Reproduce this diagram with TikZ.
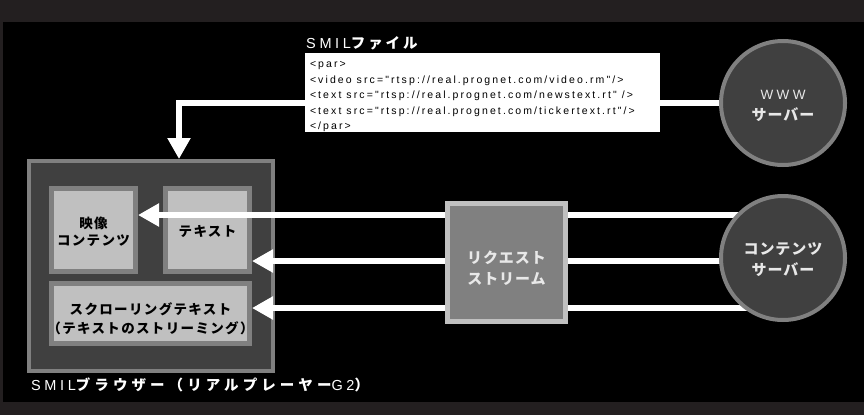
\documentclass[tikz,border=0pt]{standalone}
\usepackage{fontspec}
\setmainfont{Liberation Sans}
\newfontfamily\jpb{Noto Sans CJK JP}[LetterSpace=10]
\newfontfamily\jps{Noto Sans CJK JP}[LetterSpace=6]
\newfontfamily\jpc{Noto Sans CJK JP}[LetterSpace=20]
\newfontfamily\jpd{Noto Sans CJK JP}[LetterSpace=28]
\newfontfamily\lsp{Liberation Sans}[LetterSpace=25]
\newfontfamily\codef{Liberation Sans}[LetterSpace=20]
\usetikzlibrary{arrows.meta,calc}
\definecolor{outerbg}{HTML}{231F20}
\definecolor{midgray}{HTML}{808080}
\definecolor{darkfill}{HTML}{404040}
\definecolor{lightfill}{HTML}{C0C0C0}
\definecolor{reqtext}{HTML}{E8E8E8}
\tikzset{
  browserbox/.style={draw=midgray, fill=darkfill, line width=4pt, minimum width=244pt, minimum height=210pt, inner sep=0pt},
  innerbox/.style={draw=midgray, fill=lightfill, line width=5pt, inner sep=0pt},
  innerlbl/.style={inner sep=0pt, align=center, font=\jpb\bfseries\fontsize{13.5}{17}\selectfont, text=black},
  reqbox/.style={draw=lightfill, fill=midgray, line width=5pt, minimum width=118pt, minimum height=118pt, inner sep=0pt},
  server/.style={circle, draw=midgray, fill=darkfill, line width=4pt, minimum size=124pt, inner sep=0pt},
  darklbl/.style={inner sep=0pt, align=center, font=\jps\bfseries\fontsize{15}{21}\selectfont, text=reqtext},
  wire/.style={draw=white, line width=6pt},
  arr/.style={wire, -{Triangle[length=21pt,width=22pt]}},
  codebox/.style={fill=white, minimum width=355pt, minimum height=79pt, inner sep=0pt},
  caption/.style={anchor=west, text=white, inner sep=0pt, font=\fontsize{14}{16}\selectfont}
}
\begin{document}
\begin{tikzpicture}[x=1pt,y=-1pt]
\useasboundingbox (0,0) rectangle (864,415);
\fill[outerbg] (0,0) rectangle (864,415);
\fill[black] (3,22) rectangle (864,402);

% browser
\node[browserbox] (browser) at (151,266) {};
\node[innerbox, minimum width=84pt, minimum height=83pt] (video) at (93.5,230) {};
\node[innerbox, minimum width=84pt, minimum height=83pt] (textb) at (207.5,230) {};
\node[innerbox, minimum width=198pt, minimum height=60pt] (scroll) at (150.5,313.5) {};
\node[innerlbl] (videolbl) at ($(video.center)+(0,1.5)$) {映像\\コンテンツ};
\node[innerlbl] (textlbl) at ($(textb.center)+(0,1.5)$) {テキスト};
\node[innerlbl, font=\jpb\bfseries\fontsize{13.5}{19}\selectfont] (scrolllbl) at ($(scroll.center)+(0,5.5)$) {スクローリングテキスト\\（テキストのストリーミング）};

% positions
\coordinate (wwwc) at (783,103);
\coordinate (csc) at (783,258);
\coordinate (r1) at (0,215);
\coordinate (r2) at (0,261);
\coordinate (r3) at (0,308);
\coordinate (dropx) at (179,0);

% wires
\draw[arr] (wwwc) -| (dropx |- browser.north);
\draw[arr] (csc |- r1) -- (video.east |- r1);
\draw[arr] (csc |- r2) -- (textb.east |- r2);
\draw[arr] (csc |- r3) -- (scroll.east |- r3);

% request stream
\node[reqbox] (req) at (506.5,262.5) {};
\node[darklbl] (reqlbl) at ($(req.center)+(0,6)$) {リクエスト\\ストリーム};

% servers
\node[server] (www) at (wwwc) {};
\node[server] (cs) at (csc) {};
\node[darklbl] (wwwlbl) at ($(www.center)+(0,2.5)$) {{\lsp\mdseries\fontsize{13.5}{20}\selectfont WWW}\\サーバー};
\node[darklbl] (cslbl) at ($(cs.center)+(0,2)$) {コンテンツ\\サーバー};

% SMIL file
\node[codebox] (smil) at (482.5,92.5) {};
\node[anchor=north west, inner sep=0pt, align=left, font=\codef\fontsize{10.5}{15.5}\selectfont, text=black] (code) at ($(smil.north west)+(5,8.5)$) {%
<par>\\
<video src="rtsp://real.prognet.com/video.rm"/>\\
<text src="rtsp://real.prognet.com/newstext.rt" />\\
<text src="rtsp://real.prognet.com/tickertext.rt"/>\\
</par>};

% captions
\node[caption] (smiltitle) at (306,43) {{\lsp\fontsize{14.5}{16}\selectfont SMIL}{\jpc\bfseries\fontsize{14.5}{16}\selectfont ファイル}};
\node[caption, font=\fontsize{14.5}{16}\selectfont] (browsertitle) at (31,385) {{\lsp SMIL}{\jpd\bfseries ブラウザー（リアルプレーヤー}{\lsp G2}{\jpd\bfseries ）}};
\end{tikzpicture}
\end{document}
